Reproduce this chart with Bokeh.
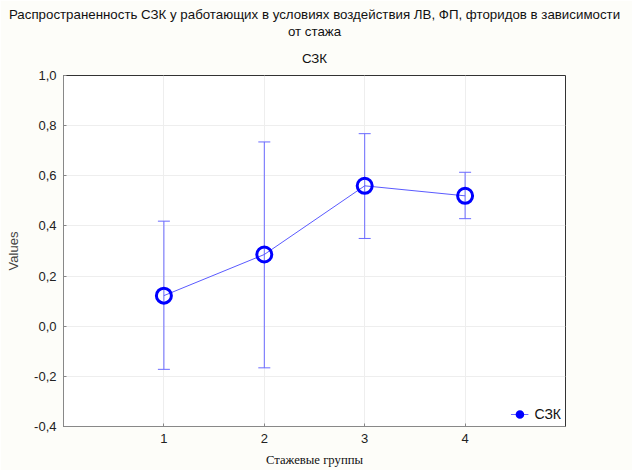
from bokeh.plotting import figure
from bokeh.models import (ColumnDataSource, Whisker, TeeHead, Range1d, Title,
                          FixedTicker, CustomJSTickFormatter, Legend, LegendItem)
from bokeh.embed import file_html
from bokeh.resources import INLINE

groups = [1, 2, 3, 4]
means = [0.122, 0.286, 0.560, 0.520]
upper = [0.419, 0.735, 0.768, 0.614]
lower = [-0.172, -0.166, 0.350, 0.429]
y_ticks = [-0.4, -0.2, 0.0, 0.2, 0.4, 0.6, 0.8, 1.0]
x_ticks = [1, 2, 3, 4]

title_lines = ["Распространенность СЗК у работающих в условиях воздействия ЛВ, ФП, фторидов в зависимости",
               "от стажа",
               "СЗК"]
x_label = "Стажевые группы"
y_label = "Values"
series_name = "СЗК"

BG = "#fdfdf9"
ERR = "#6a6aff"


def style_title(t, standoff):
    t.align = "center"
    t.text_font = "Liberation Sans"
    t.text_font_size = "13.3px"
    t.text_font_style = "normal"
    t.text_color = "#111111"
    t.standoff = standoff
    t.offset = 0


src = ColumnDataSource(dict(x=groups, y=means, upper=upper, lower=lower))

p = figure(width=632, height=470, output_backend="svg", toolbar_location=None,
           x_range=Range1d(0, 5), y_range=Range1d(-0.4, 1.0),
           title=title_lines[0],
           min_border_left=63, min_border_right=67, min_border_top=75,
           min_border_bottom=44)
style_title(p.title, 0)
t3 = Title(text=title_lines[2])
style_title(t3, 20)
p.add_layout(t3, "above")
t2 = Title(text=title_lines[1])
style_title(t2, 0)
p.add_layout(t2, "above")

p.border_fill_color = BG
p.background_fill_color = "white"
p.outline_line_color = "#333333"
p.outline_line_width = 1

for ax in (p.xaxis[0], p.yaxis[0]):
    ax.axis_line_color = "#888888"
    ax.axis_line_width = 1
    ax.major_tick_line_color = "#888888"
    ax.major_tick_in = 3
    ax.major_tick_out = 0
    ax.minor_tick_line_color = None
    ax.major_label_text_font = "Liberation Sans"
    ax.major_label_text_font_size = "13px"
    ax.major_label_text_color = "#222222"

p.xaxis.ticker = FixedTicker(ticks=x_ticks)
p.yaxis.ticker = FixedTicker(ticks=y_ticks)
p.yaxis.formatter = CustomJSTickFormatter(code="return tick.toFixed(1).replace('.', ',');")
p.xaxis.major_label_standoff = 7
p.yaxis.major_label_standoff = 7

p.xgrid.ticker = FixedTicker(ticks=x_ticks)
p.ygrid.ticker = FixedTicker(ticks=y_ticks)
p.xgrid.grid_line_color = "#eeeeee"
p.ygrid.grid_line_color = "#eeeeee"

p.xaxis.axis_label = x_label
p.xaxis.axis_label_text_font = "Liberation Serif"
p.xaxis.axis_label_text_font_style = "normal"
p.xaxis.axis_label_text_font_size = "12.7px"
p.xaxis.axis_label_text_color = "#111111"
p.xaxis.axis_label_standoff = 7
p.yaxis.axis_label = y_label
p.yaxis.axis_label_text_font = "Liberation Sans"
p.yaxis.axis_label_text_font_style = "normal"
p.yaxis.axis_label_text_font_size = "13px"
p.yaxis.axis_label_standoff = 10

w = Whisker(source=src, base="x", upper="upper", lower="lower",
            line_color=ERR, line_width=1,
            upper_head=TeeHead(size=12, line_color=ERR, line_width=1),
            lower_head=TeeHead(size=12, line_color=ERR, line_width=1))
p.add_layout(w)

p.line("x", "y", source=src, line_color="#5a5aff", line_width=1)
p.scatter("x", "y", source=src, marker="circle", size=15,
          fill_alpha=0.0, line_color="#0000ff", line_width=3)

# legend-only glyphs, placed outside the visible ranges
leg_line = p.line([-10, -9], [-10, -10], line_color=ERR, line_width=1)
leg_mark = p.scatter([-10], [-10], marker="circle_cross", size=12,
                     fill_alpha=0.0, line_color="#0000ff", line_width=3)

legend = Legend(items=[LegendItem(label=series_name, renderers=[leg_line, leg_mark])],
                location="bottom_right", margin=4, padding=2,
                glyph_width=18, glyph_height=14, label_standoff=6,
                background_fill_alpha=0.0, border_line_color=None,
                label_text_font="Liberation Sans", label_text_font_size="14px",
                label_text_color="#111111")
p.add_layout(legend)

open("out.html", "w").write(file_html(p, INLINE))
